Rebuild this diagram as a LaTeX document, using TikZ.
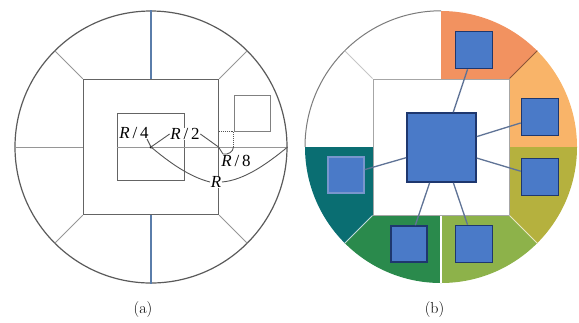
\documentclass[tikz,border=0pt]{standalone}
\usepackage{fontspec}
\newfontfamily\tnr{Liberation Serif}
\definecolor{cOR}{RGB}{242,146,96}
\definecolor{cLO}{RGB}{249,180,105}
\definecolor{cOL}{RGB}{181,177,62}
\definecolor{cYG}{RGB}{141,178,74}
\definecolor{cGR}{RGB}{42,138,76}
\definecolor{cTE}{RGB}{10,110,114}
\definecolor{sqfill}{RGB}{74,122,200}
\definecolor{sqline}{RGB}{30,55,110}
\definecolor{sqlight}{RGB}{120,150,205}
\definecolor{conn}{RGB}{95,115,150}
\definecolor{ringc}{RGB}{90,90,90}
\definecolor{edgec}{RGB}{100,100,100}
\definecolor{thinc}{RGB}{150,150,150}
\definecolor{bluec}{RGB}{90,125,170}
\definecolor{annc}{RGB}{85,85,85}
\definecolor{brownl}{RGB}{140,85,55}
\begin{document}
\begin{tikzpicture}[x=1bp,y=-1bp,
  ring/.style={circle, draw=ringc, line width=1.2bp, minimum size=272bp, inner sep=0pt},
  sqa/.style={draw=edgec, line width=1.4bp, inner sep=0pt},
  thinl/.style={draw=thinc, line width=1bp},
  bluel/.style={draw=bluec, line width=1.2bp},
  ann/.style={draw=annc, line width=0.9bp},
  lab/.style={font=\tnr\fontsize{17}{17}\selectfont, inner sep=0.6bp},
  bsq/.style={draw=sqline, fill=sqfill, line width=1.6bp, inner sep=0pt},
  cline/.style={draw=conn, line width=1.3bp},
  captxt/.style={font=\fontsize{16}{18}\selectfont, inner sep=0pt}
]
\useasboundingbox (0,0) rectangle (579,322);

% ---------------- (a) ----------------
\coordinate (O) at (151,147);
\node[ring] (C) at (O) {};
\node[sqa, minimum size=135bp] (S) at (O) {};
\node[sqa, minimum size=67bp] (I) at (O) {};
\node[sqa, draw=gray, line width=1bp, minimum size=36bp] (M) at (252,113) {};

\draw[bluel] (C.north) -- (S.north);
\draw[bluel] (S.south) -- (C.south);
\draw[thinl] (C.west) -- (S.west);
\draw[thinl] (I.west) -- (C.east);
\draw[thinl] (S.north west) -- (C.135);
\draw[thinl] (S.north east) -- (C.45);
\draw[thinl] (S.south west) -- (C.225);
\draw[thinl] (S.south east) -- (C.315);

\node[lab] (r4) at (134,133) {\textit{R}\,/\,4};
\node[lab, fill=white] (r2) at (185,134) {\textit{R}\,/\,2};
\node[lab] (r8) at (236,161) {\textit{R}\,/\,8};
\node[lab, fill=white] (rr) at (216,182) {\textit{R}};

\coordinate (E) at (218.5,147);
\coordinate (D) at (M.south west |- O);
\coordinate (K) at (223,154);
\fill[black] (O) circle[radius=1.5];
\draw[ann] (147,139) -- (O);
\draw[ann] (O) -- (r2.west);
\draw[ann] (r2.east) -- (E) -- (K);
\draw[ann, densely dotted] (M.south west -| S.east) -- (M.south west) -- (D);
\draw[ann] (D) .. controls (233,152) and (228,155) .. (K);
\draw[ann] (O) .. controls (170,163) and (190,177) .. (rr.west);
\draw[ann] (rr.east) .. controls (245,180) and (268,163) .. (C.east);

% ---------------- (b) ----------------
\coordinate (O2) at (441,147);
\node[circle, minimum size=272bp, inner sep=0pt] (C2) at (O2) {};
\begin{scope}
  \clip (O2) circle[radius=136];
  \fill[cOR] (O2) -- (441,-103) -- (617.8,-29.8) -- cycle;
  \fill[cLO] (O2) -- (617.8,-29.8) -- (691,147) -- cycle;
  \fill[cOL] (O2) -- (691,147) -- (617.8,323.8) -- cycle;
  \fill[cYG] (O2) -- (617.8,323.8) -- (441,397) -- cycle;
  \fill[cGR] (O2) -- (441,397) -- (264.2,323.8) -- cycle;
  \fill[cTE] (O2) -- (264.2,323.8) -- (191,147) -- cycle;
\end{scope}
\draw[draw=ringc!80, line width=1bp] (C2.north) arc[start angle=-90, end angle=-180, radius=136];
\node[draw=gray!70, fill=white, line width=1bp, minimum size=136bp, inner sep=0pt] (S2) at (O2) {};
\draw[draw=brownl, line width=0.9bp] (S2.north east) -- (C2.45);
\draw[draw=white!70!cOL, line width=0.8bp] (S2.south east) -- (C2.315);
\draw[draw=white, line width=1.3bp] (S2.south) -- (C2.south);
\draw[draw=white!75!cTE, line width=0.8bp] (S2.south west) -- (C2.225);
\draw[draw=gray!45, line width=0.9bp] (S2.north west) -- (C2.135);

\node[bsq, minimum size=69bp] (cb) at (441.5,147.5) {};
\node[bsq, minimum size=37bp] (s1) at (474,50) {};
\node[bsq, minimum size=37bp] (s2) at (540,117) {};
\node[bsq, minimum size=37bp] (s3) at (540,177) {};
\node[bsq, minimum size=37bp] (s4) at (474,244) {};
\node[bsq, minimum size=36bp] (s5) at (409,244) {};
\node[bsq, draw=sqlight, minimum size=36bp] (s6) at (346,175) {};
\foreach \s in {s1,s2,s3,s4,s5,s6} \draw[cline] (cb) -- (\s);

% captions
\node[captxt] (ca) at (143,310) {(a)};
\node[captxt] (cbcap) at (434.5,310) {(b)};
\end{tikzpicture}
\end{document}
